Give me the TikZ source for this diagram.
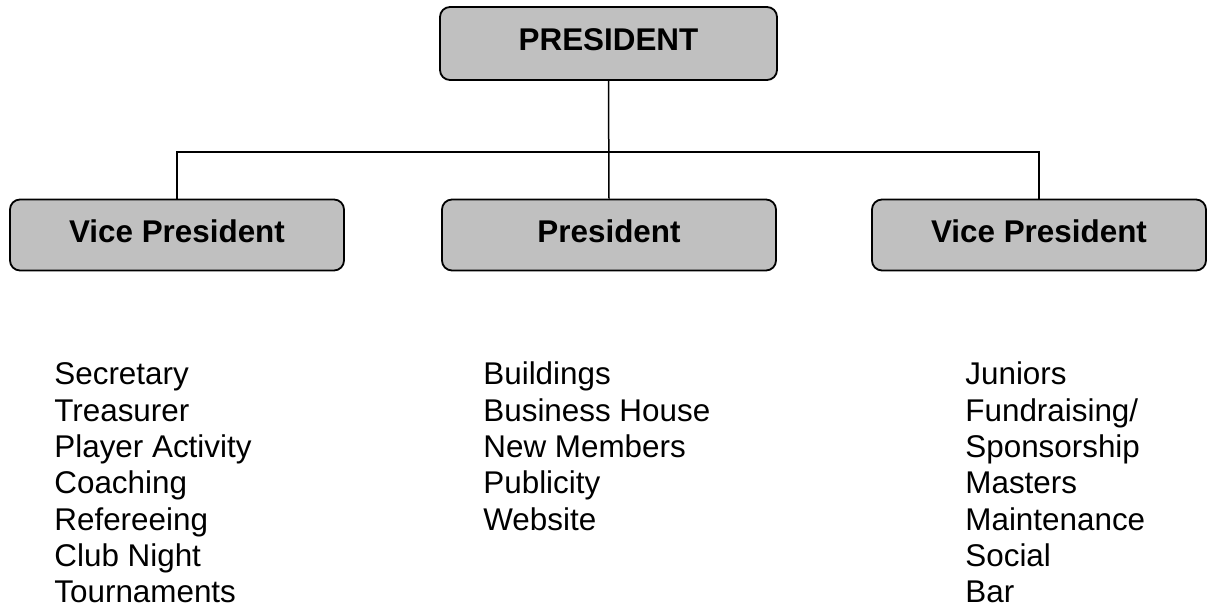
\documentclass[tikz,border=0pt]{standalone}
\usepackage{fontspec}
\setmainfont{Liberation Sans}
\usetikzlibrary{positioning}

\begin{document}
\begin{tikzpicture}[
    x=0.5pt, y=-0.5pt,
    font=\fontsize{15.7pt}{18pt}\selectfont,
    post/.style={draw, line width=0.9pt, rounded corners=5pt, fill=boxgray,
                 font=\fontsize{15.7pt}{18pt}\selectfont\bfseries,
                 minimum width=167pt, minimum height=35.5pt,
                 text depth=3.5pt, inner sep=0pt},
    item/.style={anchor=base west, inner sep=0pt},
    ln/.style={line width=0.75pt},
]
\definecolor{boxgray}{HTML}{C0C0C0}
\useasboundingbox (0,0) rectangle (1207,610);
% --- the boxes ---
\node[post, minimum width=168.5pt, minimum height=36.5pt] (pres) at (608.5,43.5) {PRESIDENT};
\node[post] (vpl) at (177,235) {Vice President};
\node[post] (mid) at (609,235) {President};
\node[post] (vpr) at (1039,235) {Vice President};
% --- connectors ---
\coordinate (bus) at (609,152);
\draw[ln] (pres.south) -- (mid.north);
\draw[ln] (vpl.north) |- (bus) -| (vpr.north);
% --- the three lists ---
\foreach \t [count=\i from 0] in {Secretary, Treasurer, Player Activity, Coaching,
    Refereeing, Club Night, Tournaments}
  \node[item] (l\i) at (54,385+36.3*\i) {\t};
\foreach \t [count=\i from 0] in {Buildings, Business House, New Members, Publicity, Website}
  \node[item] (m\i) at (483,385+36.3*\i) {\t};
\foreach \t [count=\i from 0] in {Juniors, Fundraising/, Sponsorship, Masters,
    Maintenance, Social, Bar}
  \node[item] (r\i) at (965,385+36.3*\i) {\t};
\end{tikzpicture}
\end{document}
